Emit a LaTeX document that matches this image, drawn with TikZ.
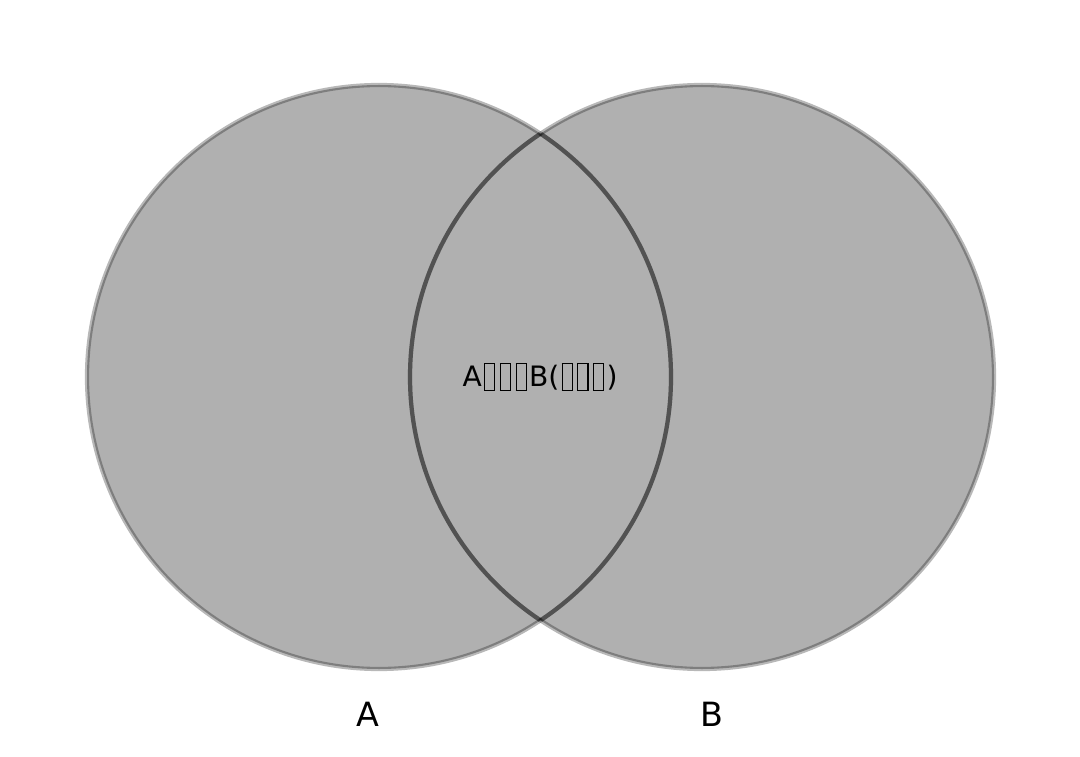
\documentclass[tikz,border=0pt]{standalone}
\usepackage{fontspec}
\setmainfont{DejaVu Sans}
\definecolor{setgray}{HTML}{B0B0B0}
% boxes the picture prints in place of missing glyphs
\newcommand{\tofu}{\kern0.08em\raisebox{-0.12em}{\setlength{\fboxsep}{0pt}\setlength{\fboxrule}{0.35pt}\framebox[0.40em]{\rule{0pt}{0.92em}}}\kern0.08em}
\tikzset{
  setfill/.style={fill=setgray},
  rim/.style={draw=black, opacity=0.28, line width=1.2pt},
  innerrim/.style={draw=black, opacity=0.35, line width=1.2pt},
  setlabel/.style={font=\fontsize{9.5}{11}\selectfont, inner sep=0pt},
  midlabel/.style={font=\fontsize{8}{10}\selectfont, inner sep=0pt}
}

\begin{document}
\begin{tikzpicture}
  \useasboundingbox (0,0) rectangle (10.8,7.56);

  \coordinate (ca) at (3.79,3.79);
  \coordinate (cb) at (7.02,3.79);

  % the two sets
  \fill[setfill] (ca) circle (2.92);
  \fill[setfill] (cb) circle (2.92);
  \draw[rim] (ca) circle (2.92);
  \draw[rim] (cb) circle (2.92);

  % darker arcs inside the overlap
  \begin{scope}
    \clip (cb) circle (2.92);
    \draw[innerrim] (ca) circle (2.92);
  \end{scope}
  \begin{scope}
    \clip (ca) circle (2.92);
    \draw[innerrim] (cb) circle (2.92);
  \end{scope}

  \node[midlabel] (mid) at (5.40,3.79) {A\tofu\tofu\tofu B(\tofu\tofu\tofu)};
  \node[setlabel] (la) at (3.68,0.42) {A};
  \node[setlabel] (lb) at (7.12,0.42) {B};
\end{tikzpicture}
\end{document}
